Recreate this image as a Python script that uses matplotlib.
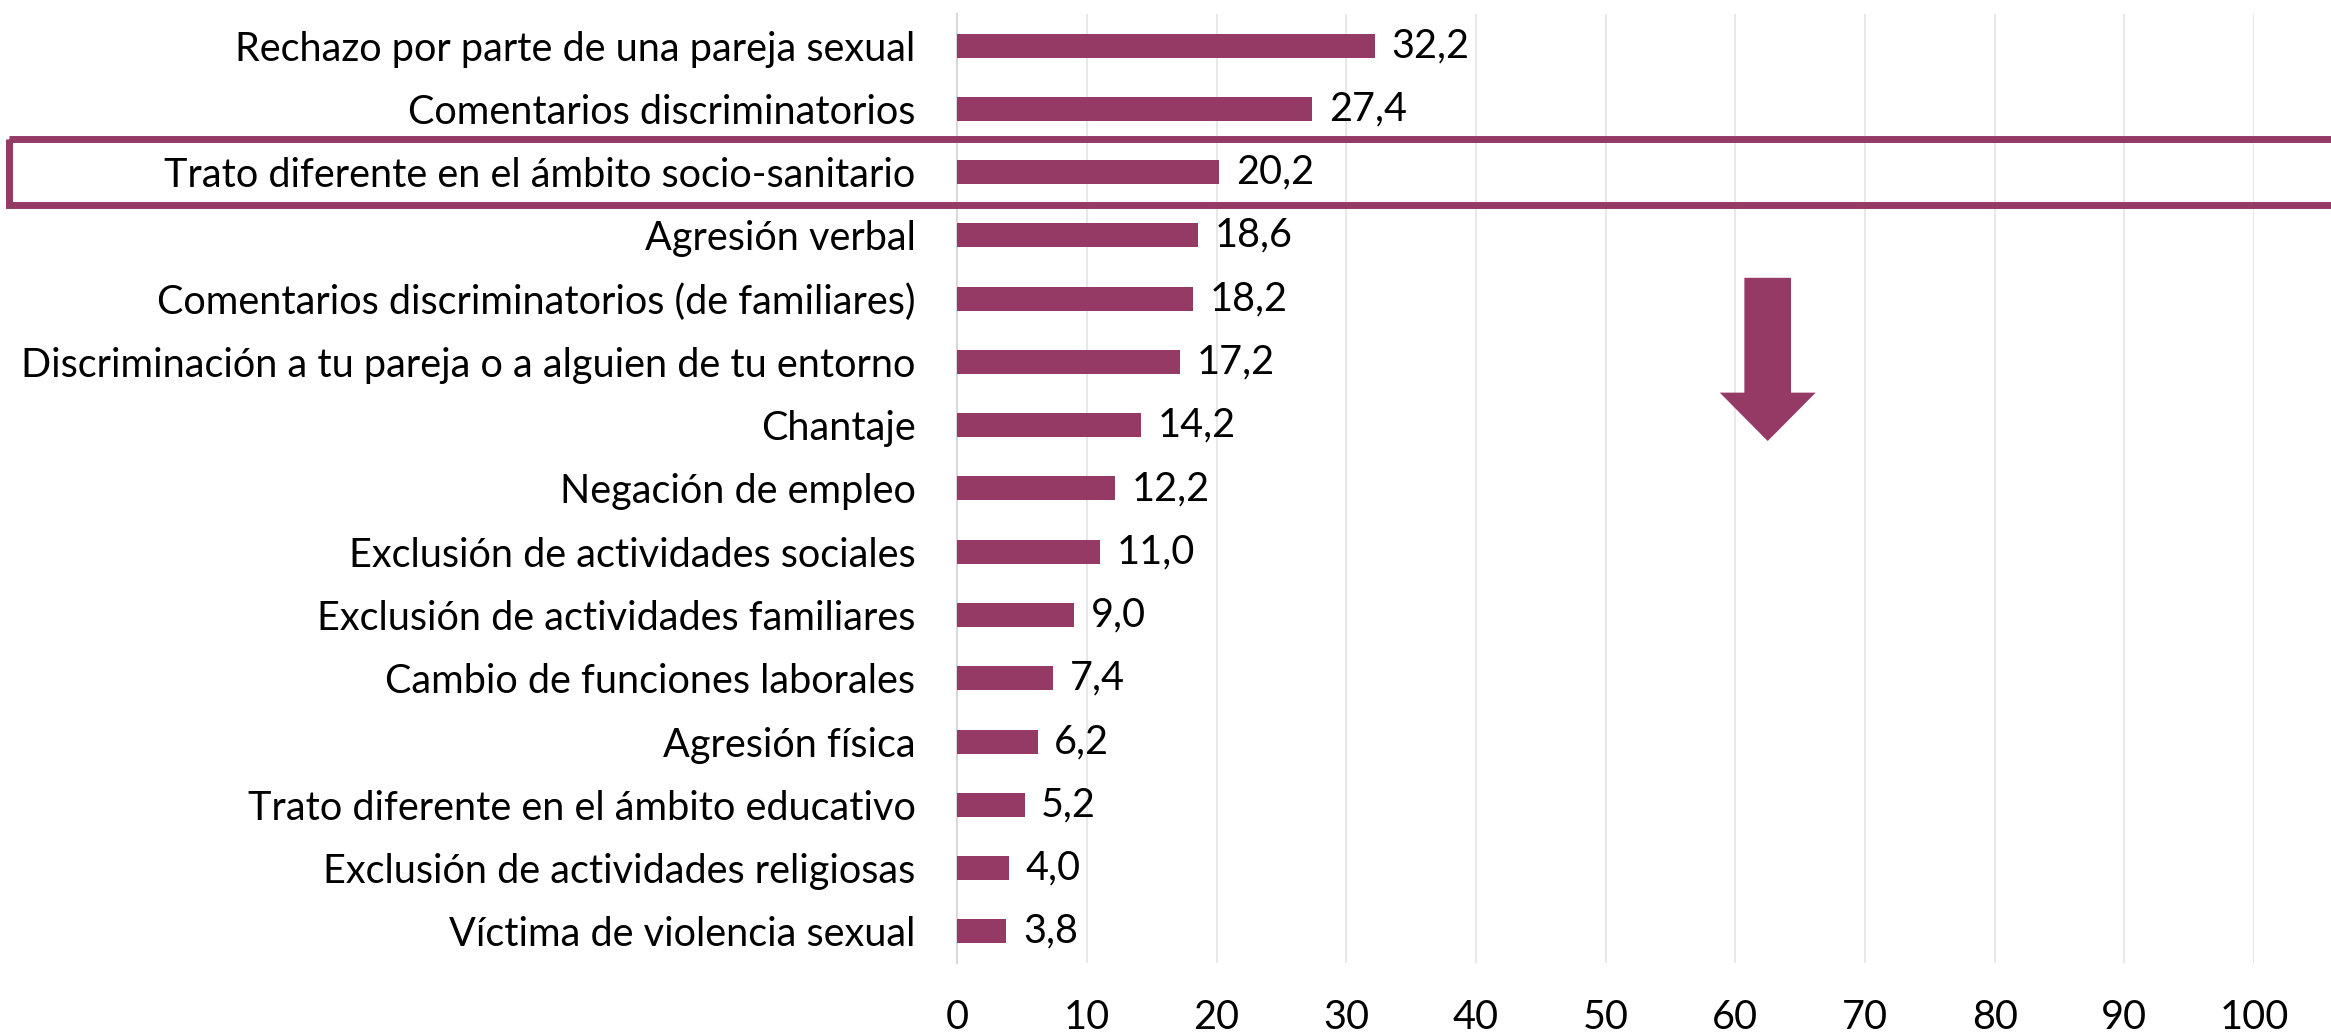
import matplotlib
matplotlib.use("Agg")
import matplotlib.pyplot as plt
from matplotlib.patches import Rectangle, Polygon
from matplotlib.transforms import blended_transform_factory

# ============= Data =============

categories = [
    "Rechazo por parte de una pareja sexual",
    "Comentarios discriminatorios",
    "Trato diferente en el ámbito socio-sanitario",
    "Agresión verbal",
    "Comentarios discriminatorios (de familiares)",
    "Discriminación a tu pareja o a alguien de tu entorno",
    "Chantaje",
    "Negación de empleo",
    "Exclusión de actividades sociales",
    "Exclusión de actividades familiares",
    "Cambio de funciones laborales",
    "Agresión física",
    "Trato diferente en el ámbito educativo",
    "Exclusión de actividades religiosas",
    "Víctima de violencia sexual",
]
values = [32.2, 27.4, 20.2, 18.6, 18.2, 17.2, 14.2, 12.2, 11.0, 9.0, 7.4, 6.2, 5.2, 4.0, 3.8]
x_ticks = [0, 10, 20, 30, 40, 50, 60, 70, 80, 90, 100]
highlight = "Trato diferente en el ámbito socio-sanitario"

COLOR = "#943A64"
FS = 28.5
plt.rcParams["font.family"] = ["Lato", "DejaVu Sans"]

# ============= Plot =============

fig = plt.figure(figsize=(23.31, 10.36), dpi=100)
ax = fig.add_axes([0.4106, 0.0705, 0.5564, 0.916])

ypos = list(range(len(categories)))
ax.barh(ypos, values, height=0.38, color=COLOR, zorder=3)
ax.set_ylim(-0.5, len(categories) - 0.5)
ax.invert_yaxis()
ax.set_xlim(0, 100)

for y, v in zip(ypos, values):
    ax.annotate(f"{v:.1f}".replace(".", ","), (v, y), xytext=(12, 0),
                textcoords="offset points", va="center", ha="left", fontsize=FS)

ax.set_yticks(ypos)
ax.set_yticklabels(categories, fontsize=FS)
ax.set_xticks(x_ticks)
ax.set_xticklabels([str(t) for t in x_ticks], fontsize=FS)
ax.tick_params(axis="both", length=0)
ax.tick_params(axis="y", pad=30)
ax.tick_params(axis="x", pad=26)

ax.grid(axis="x", color="#E8E8E8", linewidth=1.5, zorder=0)
for s in ["top", "right", "bottom"]:
    ax.spines[s].set_visible(False)
ax.spines["left"].set_color("#D9D9D9")
ax.spines["left"].set_linewidth(1.5)

# highlight box around one category
hy = categories.index(highlight)
trans = blended_transform_factory(fig.transFigure, ax.transData)
box = Rectangle((0.004, hy - 0.52), 1.1, 1.04, transform=trans, fill=False,
                edgecolor=COLOR, linewidth=5, clip_on=False, zorder=5)
fig.add_artist(box)

# downward arrow
arrow = Polygon([(0.607, 0.722), (0.643, 0.722), (0.643, 0.601), (0.662, 0.601),
                 (0.625, 0.550), (0.588, 0.601), (0.607, 0.601)],
                closed=True, transform=ax.transAxes, facecolor=COLOR,
                edgecolor="none", zorder=4)
ax.add_patch(arrow)

fig.savefig("out.png", dpi=100)
